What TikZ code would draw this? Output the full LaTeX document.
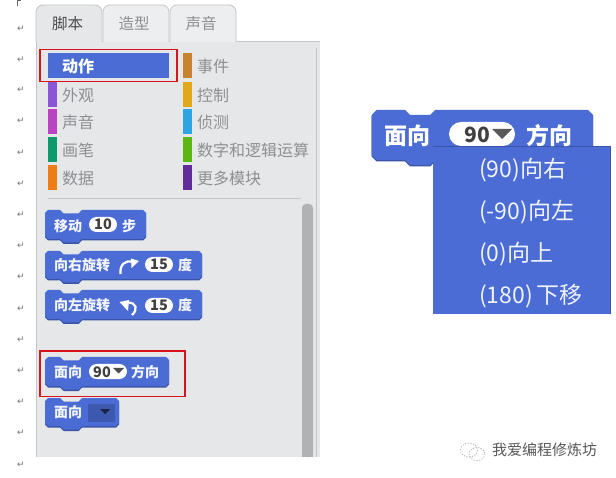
\documentclass[tikz,border=0pt]{standalone}
\usepackage{fontspec}
\setmainfont{Noto Sans CJK SC}
\newfontfamily\symfont{DejaVu Sans}
\definecolor{blockblue}{HTML}{4A6CD4}
\definecolor{blockdark}{HTML}{3A55A8}
\definecolor{panelgray}{HTML}{E6E7E8}
\definecolor{edgegray}{HTML}{C4C6C6}
\definecolor{cattext}{HTML}{8E9090}
\definecolor{markred}{HTML}{D7141C}
\definecolor{barlooks}{HTML}{8A55D7}
\definecolor{barsound}{HTML}{BB42C3}
\definecolor{barpen}{HTML}{0E9A6C}
\definecolor{bardata}{HTML}{EE7D16}
\definecolor{barevents}{HTML}{C88330}
\definecolor{barcontrol}{HTML}{E1A91A}
\definecolor{barsense}{HTML}{2CA5E2}
\definecolor{barops}{HTML}{5CB712}
\definecolor{barmore}{HTML}{632D99}
\tikzset{
  x=1pt,y=-1pt,
  tabbox/.style={draw=edgegray,line width=0.8pt,fill=#1,rounded corners=7pt},
  tablabel/.style={anchor=center,inner sep=0pt,font=\fontsize{15.5}{16}\selectfont,text=#1},
  catlabel/.style={anchor=west,inner sep=0pt,font=\fontsize{16}{17}\selectfont,text=cattext},
  blocktext/.style={anchor=west,inner sep=0pt,font=\fontsize{14}{15}\bfseries\selectfont,text=white!94!blockblue},
  pilltext/.style={anchor=center,inner sep=0pt,font=\fontsize{14.5}{15}\bfseries\selectfont,text=black!75},
  bigtext/.style={anchor=west,inner sep=0pt,font=\fontsize{23}{24}\bfseries\selectfont,text=white},
  menutext/.style={anchor=west,inner sep=0pt,font=\fontsize{23}{24}\selectfont,text=white!92!blockblue},
  retmark/.style={anchor=center,inner sep=0pt,font=\symfont\fontsize{9}{9}\selectfont,text=black!55},
  redbox/.style={draw=markred,line width=1.8pt,fill=none},
  pill/.style={fill=white,draw=none,rounded corners=#1},
  iconline/.style={draw=white,line width=2.2pt},
}
\newcommand\blockshape[9][]{%
  \path[#1] (#2+#9,#3) -- (#6,#3) -- (#6+#8,#3+#8) -- (#7-#8,#3+#8) -- (#7,#3)
    -- (#4-#9,#3) -- (#4,#3+#9) -- (#4,#5-#9) -- (#4-#9,#5)
    -- (#7,#5) -- (#7-#8,#5+#8) -- (#6+#8,#5+#8) -- (#6,#5)
    -- (#2+#9,#5) -- (#2,#5-#9) -- (#2,#3+#9) -- cycle;%
}
\newcommand\smallblock[4]{%
  \blockshape[fill=blockdark]{#1}{#2+1.5}{#3}{#4+1.5}{#1+15}{#1+37}{3.5}{3}%
  \blockshape[fill=blockblue]{#1}{#2}{#3}{#4}{#1+15}{#1+37}{3.5}{3}%
}
\newcommand\catbar[3]{\fill[#3] (#1,#2) rectangle (#1+9,#2+25);}
\begin{document}
\begin{tikzpicture}
\useasboundingbox (0,0) rectangle (616,478);
\fill[white] (0,0) rectangle (616,478);

% panel
\fill[panelgray] (36,41) rectangle (320,457);
\draw[edgegray,line width=0.8pt] (36,457) -- (36,41) -- (320,41);
\draw[edgegray,line width=0.8pt] (316,48) -- (316,457);

% tabs
\draw[tabbox=panelgray!70!white] (103,42) -- (103,5) -- (169,5) -- (169,42);
\draw[tabbox=panelgray!70!white] (170,42) -- (170,5) -- (236,5) -- (236,42);
\draw[tabbox=panelgray] (36,42) -- (36,5) -- (102,5) -- (102,42);
\fill[panelgray] (37,38) rectangle (101,43);
\node[tablabel=black!70] (tabscript) at (67.5,24) {脚本};
\node[tablabel=cattext] (tabcostume) at (134,24) {造型};
\node[tablabel=cattext] (tabsound) at (201,24) {声音};

% categories
\fill[blockblue] (48,53) rectangle (169,78);
\node[anchor=west,inner sep=0pt,font=\fontsize{16}{17}\bfseries\selectfont,text=white] (catmotion) at (62,66) {动作};
\catbar{48}{82}{barlooks}
\catbar{48}{109}{barsound}
\catbar{48}{137}{barpen}
\catbar{48}{165}{bardata}
\catbar{183}{53}{barevents}
\catbar{183}{82}{barcontrol}
\catbar{183}{109}{barsense}
\catbar{183}{137}{barops}
\catbar{183}{165}{barmore}
\node[catlabel] (catlooks) at (62,95) {外观};
\node[catlabel] (catsound) at (62,122) {声音};
\node[catlabel] (catpen) at (62,150) {画笔};
\node[catlabel] (catdata) at (62,178) {数据};
\node[catlabel] (catevents) at (197,66) {事件};
\node[catlabel] (catcontrol) at (197,95) {控制};
\node[catlabel] (catsense) at (197,122) {侦测};
\node[catlabel] (catops) at (197,150) {数字和逻辑运算};
\node[catlabel] (catmore) at (197,178) {更多模块};
\draw[edgegray,line width=1pt] (48,198.5) -- (301,198.5);

% scrollbar
\fill[black!30,rounded corners=4pt] (302,204) -- (313,204) -- (313,457) -- (302,457) -- cycle;
\fill[black!30] (302,215) rectangle (313,457);

% blocks
\smallblock{45}{210}{146}{239}
\node[blocktext] (bmove) at (54,226) {移动};
\fill[pill=7.5pt] (89,217) rectangle (117,232);
\node[pilltext] (bmoveval) at (103,224.5) {10};
\node[blocktext] (bmovestep) at (122,226) {步};

\smallblock{45}{251}{202}{279}
\node[blocktext] (bright) at (54,265) {向右旋转};
\draw[iconline] (120.5,274) .. controls (119.5,265) and (125,259.5) .. (133,262);
\fill[white] (131,258.5) -- (139,261) -- (131.5,268) -- cycle;
\fill[pill=7.5pt] (145,257) rectangle (173,272);
\node[pilltext] (brightval) at (159,264.5) {15};
\node[blocktext] (brightdeg) at (178,265) {度};

\smallblock{45}{290}{202}{319}
\node[blocktext] (bleft) at (54,305) {向左旋转};
\draw[iconline] (132,315) .. controls (138,310) and (137,302) .. (127,302.5);
\fill[white] (119.5,302) -- (129,300) -- (128,311) -- cycle;
\fill[pill=7.5pt] (145,298) rectangle (173,313);
\node[pilltext] (bleftval) at (159,305.5) {15};
\node[blocktext] (bleftdeg) at (178,305) {度};

\smallblock{45}{357}{169}{386}
\node[blocktext] (bface) at (54,372) {面向};
\fill[pill=7.5pt] (89,364) rectangle (127,379);
\node[pilltext] (bfaceval) at (102,372) {90};
\fill[black!70] (113,368) -- (124,368) -- (118.5,373.5) -- cycle;
\node[blocktext] (bfacedir) at (131,372) {方向};

\smallblock{45}{398}{119}{426}
\node[blocktext] (btoward) at (54,412) {面向};
\fill[blockdark!85!blockblue] (88,403.5) rectangle (115,421.5);
\fill[black!60!blockdark] (100,409) -- (110,409) -- (105,414) -- cycle;

% red marks
\draw[redbox] (40,49.5) rectangle (177,81.5);
\draw[redbox] (40,351) rectangle (185,396.5);

% enlarged block
\blockshape[fill=blockdark]{371.5}{111.5}{593}{161.5}{405}{435}{5}{5}
\blockshape[fill=blockblue]{371.5}{110}{593}{160}{405}{435}{5}{5}
\fill[blockdark] (433,146) rectangle (610.5,314.5);
\fill[blockblue] (433,147) rectangle (609.5,314);
\fill[pill=12pt] (449,122) rectangle (515,146);
\node[bigtext] (bigface) at (384,136) {面向};
\node[anchor=center,inner sep=0pt,font=\fontsize{21}{22}\bfseries\selectfont,text=black!75] (bigval) at (477,135) {90};
\fill[black!65] (492,129) -- (512,129) -- (502,139) -- cycle;
\node[bigtext] (bigdir) at (526,136) {方向};

% menu
\node[menutext] (m1) at (479,170) {(90)向右};
\node[menutext] (m2) at (479,212) {(-90)向左};
\node[menutext] (m3) at (479,254) {(0)向上};
\node[menutext] (m4) at (479,296) {(180)\,下移};

% watermark
\begin{scope}[black!35,line width=0.7pt,dash pattern=on 1.2pt off 1.5pt]
  \draw (469,450) ellipse [x radius=8.5,y radius=7];
  \draw (477,454) ellipse [x radius=8,y radius=6.5];
\end{scope}
\node[anchor=west,inner sep=0pt,font=\fontsize{15}{16}\selectfont,text=black!65] (wm) at (492,450) {我爱编程修炼坊};

% paragraph marks
\foreach \n/\yy in {a/29,b/60,c/90,d/121,e/153,f/184,g/215,h/246,i/277,j/309,k/340,l/371,m/402,n/433,o/465}
  \node[retmark] (ret\n) at (21,\yy) {↵};
\draw[black!60,line width=0.6pt] (17,6) -- (17,0.5) -- (21,0.5);
\end{tikzpicture}
\end{document}
